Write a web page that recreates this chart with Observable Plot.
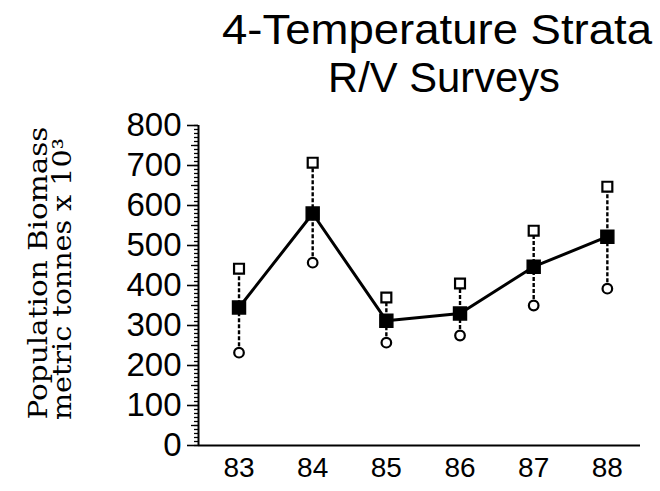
<!DOCTYPE html>
<html>
<head>
<meta charset="utf-8">
<script src="https://cdn.jsdelivr.net/npm/d3@7"></script>
<script src="https://cdn.jsdelivr.net/npm/@observablehq/plot@0.6"></script>
<style>
  html, body { margin: 0; padding: 0; background: #fff; }
  svg { display: block; }
</style>
</head>
<body>
<div id="chart"></div>
<script>
const years = [83, 84, 85, 86, 87, 88];
const mean  = [345, 580, 312, 330, 447, 522];
const upper = [442, 707, 370, 405, 537, 647];
const lower = [232, 457, 257, 275, 350, 392];
const yTicks = [0, 100, 200, 300, 400, 500, 600, 700, 800];
const titleLines = ["4-Temperature Strata", "R/V Surveys"];
const yLabelLines = ["Population Biomass", "metric tonnes x 10³"];

const data = years.map((y, i) => ({year: y, mean: mean[i], upper: upper[i], lower: lower[i]}));
const xDomain = [82.45, 88.45];

const plot = Plot.plot({
  width: 660,
  height: 491,
  marginLeft: 198,
  marginRight: 20,
  marginTop: 125,
  marginBottom: 46,
  style: {background: "#fff", color: "#000"},
  x: {domain: xDomain, axis: null},
  y: {domain: [0, 800], axis: null},
  marks: [
    // minor y ticks
    Plot.axisY(d3.range(0, 801, 10), {tickSize: 4, text: null, label: null, strokeWidth: 1.3}),
    Plot.axisY(d3.range(50, 801, 100), {tickSize: 7, text: null, label: null, strokeWidth: 1.3}),
    // major y ticks with labels
    Plot.axisY(yTicks, {
      tickSize: 11, tickPadding: 6, strokeWidth: 1.6, label: null,
      fontSize: 33, fontFamily: "Liberation Sans, Arial, sans-serif",
      tickFormat: d => String(d)
    }),
    // x tick labels
    Plot.axisX(years, {
      tickSize: 0, tickPadding: 12, label: null,
      fontSize: 28, fontFamily: "Liberation Sans, Arial, sans-serif",
      tickFormat: d => String(d)
    }),
    // axis lines
    Plot.ruleX([xDomain[0]], {y1: 0, y2: 800, strokeWidth: 2}),
    Plot.ruleY([0], {x1: xDomain[0], x2: xDomain[1], strokeWidth: 2}),
    // dashed range rules
    Plot.ruleX(data, {x: "year", y1: "lower", y2: "upper", strokeDasharray: "4,2", strokeWidth: 2.4}),
    // mean line
    Plot.line(data, {x: "year", y: "mean", strokeWidth: 3}),
    // upper open squares
    Plot.dot(data, {x: "year", y: "upper", symbol: "square", r: 5.6, fill: "#fff", stroke: "#000", strokeWidth: 2.2}),
    // lower open circles
    Plot.dot(data, {x: "year", y: "lower", symbol: "circle", r: 4.8, fill: "#fff", stroke: "#000", strokeWidth: 2.2}),
    // mean filled squares
    Plot.dot(data, {x: "year", y: "mean", symbol: "square", r: 7.3, fill: "#000", stroke: "#000"})
  ]
});

const svg = d3.select(plot);
// Title
const title = svg.append("g")
  .attr("font-family", "Liberation Sans, Arial, sans-serif")
  .attr("font-size", 43)
  .attr("text-anchor", "middle")
  .attr("fill", "#000");
title.append("text").attr("x", 437).attr("y", 44)
  .attr("textLength", 430).attr("lengthAdjust", "spacingAndGlyphs").text(titleLines[0]);
title.append("text").attr("x", 444).attr("y", 92)
  .attr("textLength", 232).attr("lengthAdjust", "spacingAndGlyphs").text(titleLines[1]);

// Y label
const yl = svg.append("g")
  .attr("font-family", "DejaVu Serif, Liberation Serif, serif")
  .attr("font-size", 26)
  .attr("text-anchor", "middle")
  .attr("fill", "#000");
yl.append("text").attr("transform", "translate(47,273) rotate(-90)")
  .attr("textLength", 293).attr("lengthAdjust", "spacingAndGlyphs").text(yLabelLines[0]);
yl.append("text").attr("transform", "translate(71,279) rotate(-90)")
  .attr("textLength", 282).attr("lengthAdjust", "spacingAndGlyphs").text(yLabelLines[1]);

document.getElementById("chart").appendChild(plot);
</script>
</body>
</html>
